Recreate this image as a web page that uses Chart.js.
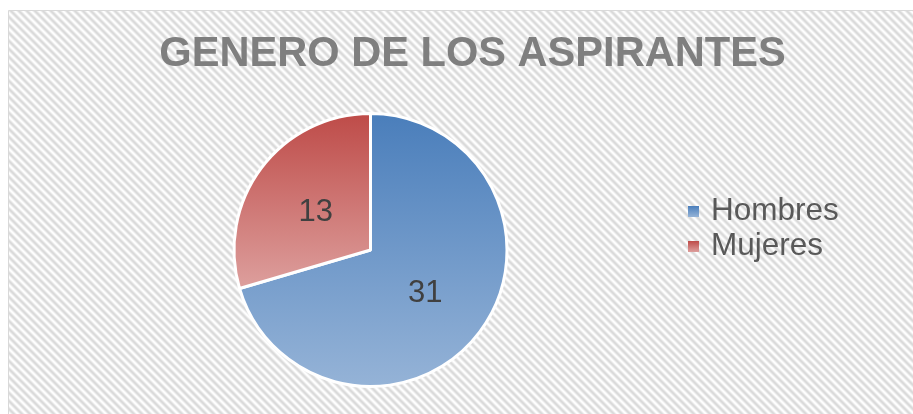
<!DOCTYPE html>
<html>
<head>
<meta charset="utf-8">
<script src="https://cdn.jsdelivr.net/npm/chart.js@4.4.1/dist/chart.umd.min.js"></script>
<style>
  html, body { margin: 0; padding: 0; background: #fff; }
  #chart { display: block; }
</style>
</head>
<body>
<canvas id="chart" width="913" height="414"></canvas>
<script>
// data
const categories = ['Hombres', 'Mujeres'];
const values = [31, 13];
const chartTitle = 'GENERO DE LOS ASPIRANTES';

// colours (top / bottom of each slice gradient)
const gradTop = ['#4a7ebb', '#be4b48'];
const gradBottom = ['#95b3d7', '#dd9f9d'];
const fontFamily = '"Liberation Sans", Arial, sans-serif';
const sliceBorder = 3;

// vertical gradient over the bounding box of each slice
function sliceGradient(c) {
    const chart = c.chart, area = chart.chartArea, i = c.dataIndex;
    if (!area) return gradTop[i];
    const cx = (area.left + area.right) / 2, cy = (area.top + area.bottom) / 2;
    const r = (Math.min(area.right - area.left, area.bottom - area.top) - sliceBorder) / 2;
    const total = values.reduce((a, b) => a + b, 0);
    let start = -Math.PI / 2;
    for (let k = 0; k < i; k++) start += values[k] / total * 2 * Math.PI;
    const end = start + values[i] / total * 2 * Math.PI;
    const ys = [cy, cy + r * Math.sin(start), cy + r * Math.sin(end)];
    [-Math.PI / 2, Math.PI / 2, 3 * Math.PI / 2].forEach(function(a) {
        if (a >= start && a <= end) ys.push(cy + r * Math.sin(a));
    });
    const g = chart.ctx.createLinearGradient(0, Math.min(...ys), 0, Math.max(...ys));
    g.addColorStop(0, gradTop[i]);
    g.addColorStop(1, gradBottom[i]);
    return g;
}

// hatched background + frame
const background = {
    id: 'background',
    beforeDraw(chart) {
        const ctx = chart.ctx;
        const tile = document.createElement('canvas');
        tile.width = 8; tile.height = 8;
        const tctx = tile.getContext('2d');
        const img = tctx.createImageData(8, 8);
        for (let y = 0; y < 8; y++) {
            for (let x = 0; x < 8; x++) {
                const t = 0.5 + 0.5 * Math.cos(2 * Math.PI * (x - y) / 8);
                const v = Math.round(255 - 38 * t);
                const p = (y * 8 + x) * 4;
                img.data[p] = v; img.data[p + 1] = v; img.data[p + 2] = v; img.data[p + 3] = 255;
            }
        }
        tctx.putImageData(img, 0, 0);
        ctx.save();
        ctx.fillStyle = '#fff';
        ctx.fillRect(0, 0, chart.width, chart.height);
        ctx.fillStyle = ctx.createPattern(tile, 'repeat');
        ctx.fillRect(9, 11, chart.width - 9, chart.height - 11);
        ctx.strokeStyle = '#d9d9d9';
        ctx.lineWidth = 1;
        ctx.beginPath();
        ctx.moveTo(8.5, chart.height + 2);
        ctx.lineTo(8.5, 10.5);
        ctx.lineTo(chart.width + 2, 10.5);
        ctx.stroke();
        ctx.restore();
    }
};

// title centred over the whole frame
const frameTitle = {
    id: 'frameTitle',
    afterDraw(chart) {
        const ctx = chart.ctx;
        ctx.save();
        ctx.font = 'bold 41.6px ' + fontFamily;
        ctx.fillStyle = '#7f7f7f';
        ctx.textAlign = 'center';
        ctx.textBaseline = 'middle';
        ctx.fillText(chartTitle, 472.5, 54.5);
        ctx.restore();
    }
};

// value labels inside the slices
const sliceLabels = {
    id: 'sliceLabels',
    afterDatasetsDraw(chart) {
        const ctx = chart.ctx;
        const meta = chart.getDatasetMeta(0);
        ctx.save();
        ctx.font = '31px ' + fontFamily;
        ctx.fillStyle = '#404040';
        ctx.textAlign = 'center';
        ctx.textBaseline = 'middle';
        meta.data.forEach(function(el, i) {
            const p = el.tooltipPosition();
            ctx.fillText(String(values[i]), p.x, p.y + 3);
        });
        ctx.restore();
    }
};

// legend on the right
const sideLegend = {
    id: 'sideLegend',
    afterDraw(chart) {
        const ctx = chart.ctx;
        ctx.save();
        ctx.font = '31.5px ' + fontFamily;
        ctx.textBaseline = 'middle';
        categories.forEach(function(name, i) {
            const cy = 211 + i * 35;
            const g = ctx.createLinearGradient(0, cy - 5, 0, cy + 6);
            g.addColorStop(0, gradTop[i]);
            g.addColorStop(1, gradBottom[i]);
            ctx.fillStyle = g;
            ctx.fillRect(688, cy - 5, 11, 11);
            ctx.fillStyle = '#595959';
            ctx.fillText(name, 711, cy);
        });
        ctx.restore();
    }
};

new Chart(document.getElementById('chart'), {
    type: 'pie',
    data: {
        labels: categories,
        datasets: [{
            data: values,
            backgroundColor: sliceGradient,
            borderColor: '#ffffff',
            borderWidth: sliceBorder,
            hoverBorderWidth: sliceBorder,
            hoverOffset: 0
        }]
    },
    options: {
        responsive: false,
        devicePixelRatio: 1,
        animation: false,
        events: [],
        layout: { padding: { left: 32, right: 204, top: 112, bottom: 26 } },
        plugins: {
            legend: { display: false },
            tooltip: { enabled: false },
            title: { display: false }
        }
    },
    plugins: [background, frameTitle, sliceLabels, sideLegend]
});
</script>
</body>
</html>
